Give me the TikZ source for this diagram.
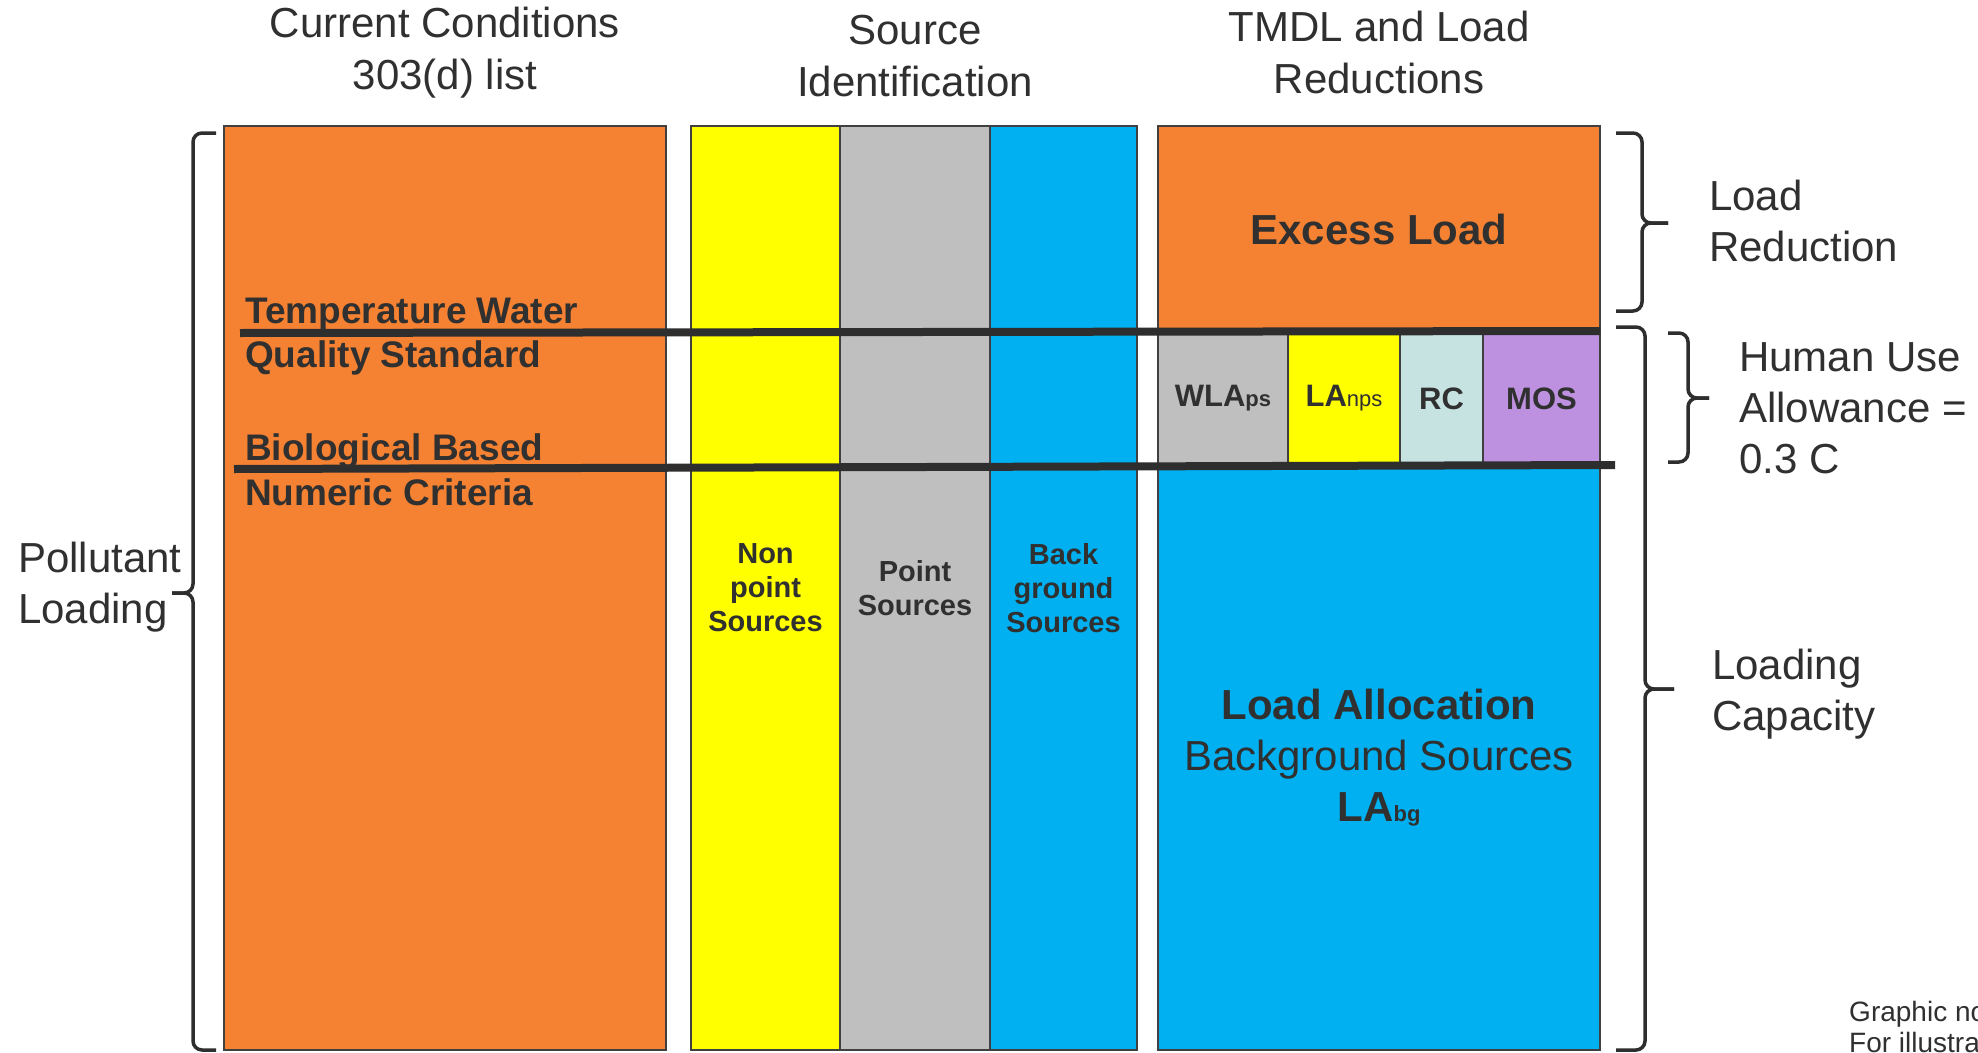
\documentclass[tikz,border=0pt]{standalone}
\usepackage{fontspec}
\setmainfont{Liberation Sans}
\usetikzlibrary{positioning}
\definecolor{cOrange}{RGB}{245,130,50}
\definecolor{cYellow}{RGB}{255,255,0}
\definecolor{cGray}{RGB}{191,191,191}
\definecolor{cBlue}{RGB}{0,176,240}
\definecolor{cRC}{RGB}{198,227,226}
\definecolor{cMOS}{RGB}{189,145,223}
\definecolor{cTxt}{RGB}{48,48,48}
\definecolor{cEdge}{RGB}{64,64,64}
\definecolor{cLine}{RGB}{46,46,46}
\newcommand{\loadsub}[1]{{\fontsize{22}{24}\selectfont #1}}

\begin{document}
\begin{tikzpicture}[x=1pt, y=-1pt, text=cTxt,
      colbox/.style={draw=cEdge, line width=1.5pt, inner sep=0pt, outer sep=0pt, align=center},
      srcfont/.style={font=\fontsize{29}{34}\selectfont\bfseries},
      allocfont/.style={font=\fontsize{31}{36}\selectfont\bfseries},
      hdr/.style={align=center, inner sep=0pt, font=\fontsize{42}{52}\selectfont},
      side/.style={anchor=west, align=left, inner sep=0pt, font=\fontsize{42}{51}\selectfont},
      crit/.style={anchor=base west, inner sep=0pt, font=\fontsize{37}{42}\selectfont\bfseries},
      note/.style={anchor=north west, align=left, inner sep=0pt, font=\fontsize{28}{31}\selectfont},
      sepline/.style={draw=cLine, line width=8pt},
      brc/.style={draw=cLine, line width=3.5pt, rounded corners=9pt}]
    \fill[white] (0,0) rectangle (1978,1052);
    \useasboundingbox (0,0) rectangle (1978,1052);
    \clip (0,0) rectangle (1978,1052);
    % --- headings ---
    \node[hdr] (tcur) at (445,53) {Current Conditions\\303(d) list};
    \node[hdr] (tsrc) at (915,56) {Source\\Identification};
    \node[hdr] (ttmdl) at (1379,52) {TMDL and Load\\Reductions};
    % --- current conditions ---
    \node[colbox, fill=cOrange, minimum width=442pt, minimum height=924pt, anchor=north west] (cur) at (224,126) {};
    % --- source identification ---
    \node[colbox, srcfont, fill=cYellow, minimum width=149pt, minimum height=924pt, anchor=north west] (nps) at (691,126) {Non\\point\\Sources};
    \node[colbox, srcfont, fill=cGray, minimum width=150pt, minimum height=924pt, right=0pt of nps] (pts) {Point\\Sources};
    \node[colbox, srcfont, fill=cBlue, minimum width=147pt, minimum height=924pt, right=0pt of pts] (bgs) {Back\\ground\\Sources};
    % --- TMDL and load reductions ---
    \node[colbox, fill=cOrange, minimum width=442pt, minimum height=206pt, anchor=north west,
          font=\fontsize{42}{50}\selectfont\bfseries] (exc) at (1158,126) {Excess Load};
    \node[colbox, allocfont, fill=cGray, minimum width=130pt, minimum height=133pt, anchor=north west] (wla) at (1158,332) {WLA\loadsub{ps}};
    \node[colbox, allocfont, fill=cYellow, minimum width=112pt, minimum height=133pt, right=0pt of wla] (lanps) {LA\loadsub{\mdseries nps}};
    \node[colbox, allocfont, fill=cRC, minimum width=83pt, minimum height=133pt, right=0pt of lanps] (rc) {RC};
    \node[colbox, allocfont, fill=cMOS, minimum width=117pt, minimum height=133pt, right=0pt of rc] (mos) {MOS};
    \node[colbox, fill=cBlue, minimum width=442pt, minimum height=585pt, anchor=north west,
          font=\fontsize{42}{51}\selectfont] (lab) at (1158,465) {\textbf{Load Allocation}\\Background Sources\\\textbf{LA\loadsub{bg}}};
    % standards cut across all columns
    \draw[sepline] (240,333) -- (1600,331);
    \draw[sepline] (234,469) -- (1615,465);
    \node[crit] (tws1) at (245,323) {Temperature Water};
    \node[crit] (tws2) at (245,367) {Quality Standard};
    \node[crit] (bio1) at (245,460) {Biological Based};
    \node[crit] (bio2) at (245,505) {Numeric Criteria};
    % --- braces ---
    \draw[brc] (216,133) -- (193,133) -- (193,593) -- (172,593);
    \draw[brc] (172,593) -- (193,593) -- (193,1050) -- (216,1050);
    \draw[brc] (1616,133) -- (1642,133) -- (1642,223) -- (1668,223);
    \draw[brc] (1668,223) -- (1642,223) -- (1642,311) -- (1616,311);
    \draw[brc] (1616,327) -- (1645,327) -- (1645,689) -- (1674,689);
    \draw[brc] (1674,689) -- (1645,689) -- (1645,1050) -- (1616,1050);
    \draw[brc] (1668,333) -- (1688,333) -- (1688,398) -- (1709,398);
    \draw[brc] (1709,398) -- (1688,398) -- (1688,462) -- (1668,462);
    \node[side] (pload) at (18,587) {Pollutant\\Loading};
    \node[side] (lred) at (1709,221) {Load\\Reduction};
    \node[side] (huse) at (1739,408) {Human Use\\Allowance =\\0.3 C};
    \node[side] (lcap) at (1712,694) {Loading\\Capacity};
    \node[note] (gnote) at (1849,1001) {Graphic not to scale\\For illustrative purposes only};
  \end{tikzpicture}
\end{document}
